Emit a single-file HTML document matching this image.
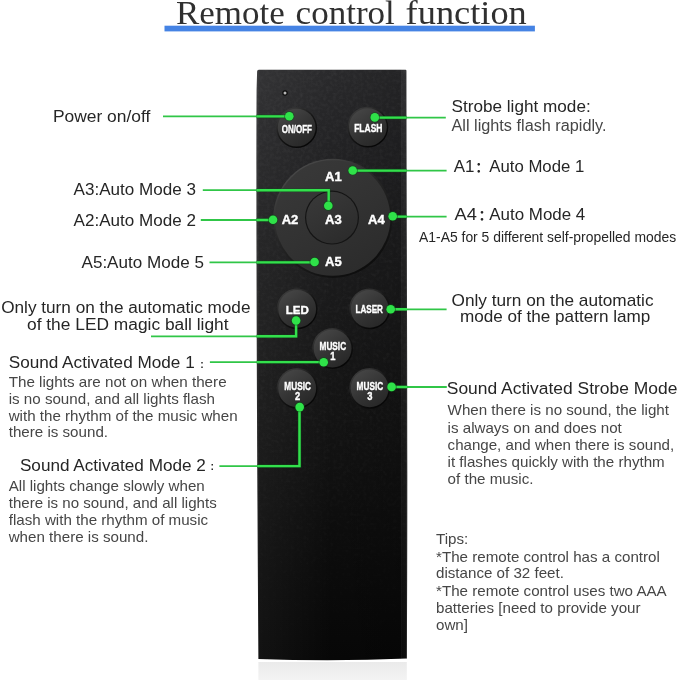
<!DOCTYPE html>
<html lang="en">
<head>
<meta charset="utf-8">
<title>Remote control function</title>
<style>
html,body{margin:0;padding:0;background:#fff;}
body{width:679px;height:680px;overflow:hidden;position:relative;}
svg{position:absolute;left:0;top:0;display:block;will-change:opacity;}
text{font-family:"Liberation Sans","Noto Sans CJK SC",sans-serif;}
.title{font-family:"Liberation Serif",serif;font-size:33px;fill:#303030;}
.h{fill:#262626;}
.b{fill:#464646;}
.btn{font-weight:bold;fill:#fff;text-anchor:middle;}
.g{stroke:#22dc3e;stroke-width:2.8;fill:none;stroke-linejoin:miter;}
.d{fill:#2fe249;}
</style>
</head>
<body>
<svg width="679" height="680" viewBox="0 0 679 680">
<defs>
  <linearGradient id="body" x1="0" y1="0" x2="0" y2="1">
    <stop offset="0" stop-color="#2a2a2c"/>
    <stop offset="0.1" stop-color="#242426"/>
    <stop offset="0.3" stop-color="#1c1c1d"/>
    <stop offset="0.6" stop-color="#131313"/>
    <stop offset="0.75" stop-color="#0e0e0e"/>
    <stop offset="0.85" stop-color="#0b0b0b"/>
    <stop offset="1" stop-color="#070707"/>
  </linearGradient>
  <linearGradient id="edge" x1="0" y1="0" x2="1" y2="0">
    <stop offset="0" stop-color="#fff" stop-opacity="0.12"/>
    <stop offset="0.02" stop-color="#fff" stop-opacity="0.045"/>
    <stop offset="0.5" stop-color="#fff" stop-opacity="0"/>
    <stop offset="0.5" stop-color="#000" stop-opacity="0"/>
    <stop offset="0.96" stop-color="#000" stop-opacity="0.15"/>
    <stop offset="0.965" stop-color="#fff" stop-opacity="0.02"/>
    <stop offset="0.99" stop-color="#fff" stop-opacity="0.03"/>
    <stop offset="1" stop-color="#000" stop-opacity="0.4"/>
  </linearGradient>
  <linearGradient id="refl" x1="0" y1="0" x2="0" y2="1">
    <stop offset="0" stop-color="#eaeaea"/>
    <stop offset="1" stop-color="#f3f3f3"/>
  </linearGradient>
  <linearGradient id="bt" x1="0.2" y1="0.1" x2="0.8" y2="0.95">
    <stop offset="0" stop-color="#444444"/>
    <stop offset="0.5" stop-color="#343434"/>
    <stop offset="1" stop-color="#272727"/>
  </linearGradient>
  <linearGradient id="ring" x1="0.2" y1="0.1" x2="0.8" y2="0.95">
    <stop offset="0" stop-color="#3a3a3a"/>
    <stop offset="0.45" stop-color="#161616"/>
    <stop offset="1" stop-color="#050505"/>
  </linearGradient>
  <linearGradient id="dial" x1="0.2" y1="0.05" x2="0.8" y2="1">
    <stop offset="0" stop-color="#383838"/>
    <stop offset="0.5" stop-color="#323232"/>
    <stop offset="1" stop-color="#2b2b2b"/>
  </linearGradient>
  <linearGradient id="dring" x1="0.2" y1="0.05" x2="0.8" y2="1">
    <stop offset="0" stop-color="#4a4a4a"/>
    <stop offset="0.4" stop-color="#262626"/>
    <stop offset="1" stop-color="#0a0a0a"/>
  </linearGradient>
  <filter id="noise" x="0" y="0" width="1" height="1">
    <feTurbulence type="fractalNoise" baseFrequency="0.3" numOctaves="2" seed="3" result="n"/>
    <feColorMatrix type="matrix" values="0 0 0 0 1  0 0 0 0 1  0 0 0 0 1  0.6 0.6 0.6 0 -0.75"/>
    <feComposite in2="SourceGraphic" operator="in"/>
  </filter>
  <linearGradient id="nfade" x1="0" y1="0" x2="0" y2="1">
    <stop offset="0" stop-color="#fff" stop-opacity="1"/>
    <stop offset="0.6" stop-color="#fff" stop-opacity="0.7"/>
    <stop offset="1" stop-color="#fff" stop-opacity="0.1"/>
  </linearGradient>
  <mask id="nm"><rect x="250" y="60" width="170" height="610" fill="url(#nfade)"/></mask>
  <clipPath id="rc"><path d="M258.8 69.7 H405.5 Q406.4 69.7 406.4 70.7 C406.5 200 407.8 400 406.9 658.5 Q332 661.7 258.4 658.9 C257 450 256 200 256.6 90 L257.1 71.5 Q257.2 69.7 258.8 69.7Z"/></clipPath>
</defs>

<!-- title -->
<text class="title" y="24.4"><tspan x="175.9" textLength="108.8" lengthAdjust="spacingAndGlyphs">Remote</tspan> <tspan x="295.6" textLength="99.2" lengthAdjust="spacingAndGlyphs">control</tspan> <tspan x="405.6" textLength="121.2" lengthAdjust="spacingAndGlyphs">function</tspan></text>
<rect x="164.5" y="25.7" width="370.4" height="5.7" fill="#4583e4"/>

<!-- remote -->
<rect x="258.4" y="662" width="148.4" height="18" fill="url(#refl)"/>
<path id="rb" d="M258.8 69.7 H405.5 Q406.4 69.7 406.4 70.7 C406.5 200 407.8 400 406.9 658.5 Q332 661.7 258.4 658.9 C257 450 256 200 256.6 90 L257.1 71.5 Q257.2 69.7 258.8 69.7Z" fill="url(#body)"/>
<g mask="url(#nm)"><path d="M258.8 69.7 H405.5 Q406.4 69.7 406.4 70.7 C406.5 200 407.8 400 406.9 658.5 Q332 661.7 258.4 658.9 C257 450 256 200 256.6 90 L257.1 71.5 Q257.2 69.7 258.8 69.7Z" fill="#fff" filter="url(#noise)" opacity="0.08"/></g>
<path d="M258.8 69.7 H405.5 Q406.4 69.7 406.4 70.7 C406.5 200 407.8 400 406.9 658.5 Q332 661.7 258.4 658.9 C257 450 256 200 256.6 90 L257.1 71.5 Q257.2 69.7 258.8 69.7Z" fill="url(#edge)"/>
<circle cx="285" cy="93" r="2.7" fill="#0c0c0c"/>
<circle cx="285" cy="93" r="1.5" fill="#b8b8b8"/>

<!-- buttons -->
<g>
  <circle cx="296.7" cy="127.7" r="20.4" fill="url(#ring)"/>
  <circle cx="296.7" cy="127.7" r="18.9" fill="url(#bt)"/>
  <circle cx="367.9" cy="127.2" r="20.4" fill="url(#ring)"/>
  <circle cx="367.9" cy="127.2" r="18.9" fill="url(#bt)"/>
  <circle cx="332.8" cy="218.3" r="59.6" fill="url(#dring)"/>
  <circle cx="332.6" cy="218" r="57.8" fill="url(#dial)"/>
  <circle cx="332" cy="217.6" r="27" fill="#141414"/>
  <circle cx="332" cy="217.6" r="25.8" fill="url(#dial)"/>
  <circle cx="297.2" cy="308.9" r="20.4" fill="url(#ring)"/>
  <circle cx="297.2" cy="308.9" r="18.9" fill="url(#bt)"/>
  <circle cx="369.7" cy="308.9" r="20.4" fill="url(#ring)"/>
  <circle cx="369.7" cy="308.9" r="18.9" fill="url(#bt)"/>
  <circle cx="332.6" cy="348.5" r="20.4" fill="url(#ring)"/>
  <circle cx="332.6" cy="348.5" r="18.9" fill="url(#bt)"/>
  <circle cx="297.2" cy="388.4" r="20.4" fill="url(#ring)"/>
  <circle cx="297.2" cy="388.4" r="18.9" fill="url(#bt)"/>
  <circle cx="369.7" cy="388.4" r="20.4" fill="url(#ring)"/>
  <circle cx="369.7" cy="388.4" r="18.9" fill="url(#bt)"/>
</g>

<!-- button labels -->
<g class="btn" stroke="#fff" stroke-width="0.4">
  <text x="296.8" y="132.7" font-size="11.4" textLength="30.3" lengthAdjust="spacingAndGlyphs">ON/OFF</text>
  <text x="368.3" y="132.3" font-size="11.4" textLength="28.3" lengthAdjust="spacingAndGlyphs">FLASH</text>
  <text x="333.4" y="180.6" font-size="13">A1</text>
  <text x="290" y="223.8" font-size="13">A2</text>
  <text x="333.4" y="223.8" font-size="13">A3</text>
  <text x="376.4" y="223.8" font-size="13">A4</text>
  <text x="333.4" y="266.2" font-size="13">A5</text>
  <text x="297.3" y="313.6" font-size="11.8" textLength="23" lengthAdjust="spacingAndGlyphs">LED</text>
  <text x="369.2" y="313.4" font-size="11.4" textLength="27.5" lengthAdjust="spacingAndGlyphs">LASER</text>
  <text x="332.8" y="350.1" font-size="11.8" textLength="26.6" lengthAdjust="spacingAndGlyphs">MUSIC</text>
  <text x="332.8" y="360.3" font-size="11.4" textLength="5.2" lengthAdjust="spacingAndGlyphs">1</text>
  <text x="297.6" y="390" font-size="11.8" textLength="26.6" lengthAdjust="spacingAndGlyphs">MUSIC</text>
  <text x="297.6" y="400" font-size="11.4" textLength="5.2" lengthAdjust="spacingAndGlyphs">2</text>
  <text x="369.9" y="390" font-size="11.8" textLength="26.6" lengthAdjust="spacingAndGlyphs">MUSIC</text>
  <text x="369.9" y="400" font-size="11.4" textLength="5.2" lengthAdjust="spacingAndGlyphs">3</text>
</g>

<!-- green leader lines -->
<g class="g" style="stroke:#30c647;stroke-width:1.8">
  <path d="M163 116.4 H289.3"/>
  <path d="M374.8 117.6 H445.8"/>
  <path d="M352.7 170.6 H446.6"/>
  <path d="M202.8 190.2 H328.7 V205.8"/>
  <path d="M200.8 220 H273"/>
  <path d="M392.7 216.6 H446.6"/>
  <path d="M209.5 262.4 H314.6"/>
  <path d="M151 336.3 H296.1 V320.5"/>
  <path d="M390.9 309.3 H446.6"/>
  <path d="M209.9 362.1 H323.7"/>
  <path d="M219.4 466.1 H299.5 V407.1"/>
  <path d="M391.5 387 H446.8"/>
</g>
<g clip-path="url(#rc)">
<g class="g" style="stroke:#0b4f17;stroke-width:3.6;stroke-opacity:0.6">
  <path d="M163 116.4 H289.3"/>
  <path d="M374.8 117.6 H445.8"/>
  <path d="M352.7 170.6 H446.6"/>
  <path d="M202.8 190.2 H328.7 V205.8"/>
  <path d="M200.8 220 H273"/>
  <path d="M392.7 216.6 H446.6"/>
  <path d="M209.5 262.4 H314.6"/>
  <path d="M151 336.3 H296.1 V320.5"/>
  <path d="M390.9 309.3 H446.6"/>
  <path d="M209.9 362.1 H323.7"/>
  <path d="M219.4 466.1 H299.5 V407.1"/>
  <path d="M391.5 387 H446.8"/>
</g>
<g class="g" style="stroke:#33e04c;stroke-width:2.4">
  <path d="M163 116.4 H289.3"/>
  <path d="M374.8 117.6 H445.8"/>
  <path d="M352.7 170.6 H446.6"/>
  <path d="M202.8 190.2 H328.7 V205.8"/>
  <path d="M200.8 220 H273"/>
  <path d="M392.7 216.6 H446.6"/>
  <path d="M209.5 262.4 H314.6"/>
  <path d="M151 336.3 H296.1 V320.5"/>
  <path d="M390.9 309.3 H446.6"/>
  <path d="M209.9 362.1 H323.7"/>
  <path d="M219.4 466.1 H299.5 V407.1"/>
  <path d="M391.5 387 H446.8"/>
</g>
</g>
<g fill="#0b4f17" fill-opacity="0.6">
  <circle cx="289.3" cy="116.2" r="5.1"/>
  <circle cx="374.8" cy="117.4" r="5.1"/>
  <circle cx="352.7" cy="170.5" r="5.1"/>
  <circle cx="328.3" cy="205.8" r="5.1"/>
  <circle cx="273" cy="219.8" r="5.1"/>
  <circle cx="392.7" cy="216.2" r="5.1"/>
  <circle cx="314.6" cy="262" r="5.1"/>
  <circle cx="296.1" cy="320.5" r="5.1"/>
  <circle cx="390.7" cy="309.2" r="5.1"/>
  <circle cx="323.7" cy="362.2" r="5.1"/>
  <circle cx="299.7" cy="407.1" r="5.1"/>
  <circle cx="391.6" cy="386.9" r="5.1"/>
</g>
<g class="d">
  <circle cx="289.3" cy="116.2" r="4.3"/>
  <circle cx="374.8" cy="117.4" r="4.3"/>
  <circle cx="352.7" cy="170.5" r="4.3"/>
  <circle cx="328.3" cy="205.8" r="4.3"/>
  <circle cx="273" cy="219.8" r="4.3"/>
  <circle cx="392.7" cy="216.2" r="4.3"/>
  <circle cx="314.6" cy="262" r="4.3"/>
  <circle cx="296.1" cy="320.5" r="4.3"/>
  <circle cx="390.7" cy="309.2" r="4.3"/>
  <circle cx="323.7" cy="362.2" r="4.3"/>
  <circle cx="299.7" cy="407.1" r="4.3"/>
  <circle cx="391.6" cy="386.9" r="4.3"/>
</g>

<!-- left labels -->
<g class="h">
  <text x="52.9" y="121.8" font-size="17.4" textLength="97.4" lengthAdjust="spacingAndGlyphs">Power on/off</text>
  <text x="73.6" y="194.6" font-size="17.1" textLength="122.4" lengthAdjust="spacingAndGlyphs">A3:Auto Mode 3</text>
  <text x="73.6" y="226" font-size="17.1" textLength="122.4" lengthAdjust="spacingAndGlyphs">A2:Auto Mode 2</text>
  <text x="81.5" y="268.1" font-size="17.1" textLength="122.4" lengthAdjust="spacingAndGlyphs">A5:Auto Mode 5</text>
  <text x="1.2" y="313.1" font-size="17.3" textLength="249.3" lengthAdjust="spacingAndGlyphs">Only turn on the automatic mode</text>
  <text x="27" y="330.1" font-size="17.3" textLength="201.6" lengthAdjust="spacingAndGlyphs">of the LED magic ball light</text>
  <text x="8.7" y="368.3" font-size="17.2"><tspan textLength="186" lengthAdjust="spacingAndGlyphs">Sound Activated Mode 1</tspan><tspan x="200.3" dy="-0.4" font-size="10.5" font-weight="bold">:</tspan></text>
  <text x="19.9" y="470.6" font-size="17.2"><tspan textLength="186" lengthAdjust="spacingAndGlyphs">Sound Activated Mode 2</tspan><tspan x="210.6" dy="-0.4" font-size="10.5" font-weight="bold">:</tspan></text>
</g>
<g class="b" font-size="15.15">
  <text x="8.7" y="386.6" textLength="217.9" lengthAdjust="spacingAndGlyphs">The lights are not on when there</text>
  <text x="8.7" y="403.6">is no sound, and all lights flash</text>
  <text x="8.7" y="420.6">with the rhythm of the music when</text>
  <text x="8.7" y="437.4">there is sound.</text>
  <text x="8.7" y="490.5">All lights change slowly when</text>
  <text x="8.7" y="507.6" textLength="208" lengthAdjust="spacingAndGlyphs">there is no sound, and all lights</text>
  <text x="8.7" y="524.7">flash with the rhythm of music</text>
  <text x="8.7" y="541.8">when there is sound.</text>
</g>

<!-- right labels -->
<g class="h">
  <text x="451.5" y="111.9" font-size="16.6" textLength="139.2" lengthAdjust="spacingAndGlyphs">Strobe light mode:</text>
  <text y="172.3" font-size="16.3"><tspan x="453.8" font-size="17" textLength="20.7" lengthAdjust="spacingAndGlyphs">A1</tspan><tspan x="475.2" font-size="14" font-weight="bold">：</tspan><tspan x="489.3" textLength="95" lengthAdjust="spacingAndGlyphs">Auto Mode 1</tspan></text>
  <text y="220.3" font-size="16.3"><tspan x="454.6" font-size="17" textLength="22.3" lengthAdjust="spacingAndGlyphs">A4</tspan><tspan x="478.4" font-size="14" font-weight="bold">：</tspan><tspan x="489.3" textLength="96" lengthAdjust="spacingAndGlyphs">Auto Mode 4</tspan></text>
  <text x="419" y="242.3" font-size="13.9" textLength="257.2" lengthAdjust="spacingAndGlyphs">A1-A5 for 5 different self-propelled modes</text>
  <text x="451.5" y="305.6" font-size="16.6" textLength="202" lengthAdjust="spacingAndGlyphs">Only turn on the automatic</text>
  <text x="459.9" y="322" font-size="16.6" textLength="190.4" lengthAdjust="spacingAndGlyphs">mode of the pattern lamp</text>
  <text x="446.8" y="393.9" font-size="17.2" textLength="230.6" lengthAdjust="spacingAndGlyphs">Sound Activated Strobe Mode</text>
</g>
<g class="b" font-size="15.15">
  <text x="451.5" y="131.4" font-size="16" textLength="155" lengthAdjust="spacingAndGlyphs">All lights flash rapidly.</text>
  <text x="447.6" y="415.2">When there is no sound, the light</text>
  <text x="447.6" y="432.5">is always on and does not</text>
  <text x="447.6" y="449.8" textLength="226.6" lengthAdjust="spacingAndGlyphs">change, and when there is sound,</text>
  <text x="447.6" y="466.9">it flashes quickly with the rhythm</text>
  <text x="447.6" y="483.6">of the music.</text>
  <text x="436" y="543.7">Tips:</text>
  <text x="436" y="561.6">*The remote control has a control</text>
  <text x="436" y="578.3">distance of 32 feet.</text>
  <text x="436" y="596.2" textLength="230.7" lengthAdjust="spacingAndGlyphs">*The remote control uses two AAA</text>
  <text x="436" y="613.3">batteries [need to provide your</text>
  <text x="436" y="630.4">own]</text>
</g>
</svg>
</body>
</html>
